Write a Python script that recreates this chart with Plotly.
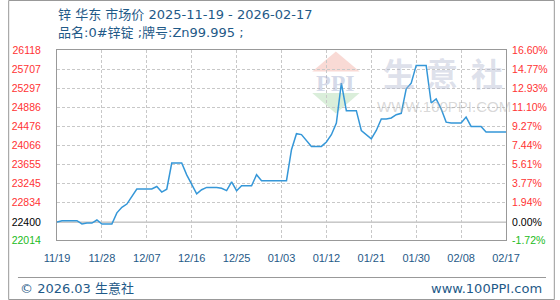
import pandas as pd
import plotly.graph_objects as go

# ---------------- data ----------------
start_date = "2025-11-19"
prices = [
    22400, 22430, 22430, 22430, 22430, 22360, 22380, 22380, 22446, 22360,
    22360, 22360, 22600, 22720, 22790, 22940, 23115, 23115, 23115, 23115,
    23170, 23050, 23110, 23677, 23677, 23677, 23420, 23200, 23010, 23100,
    23150, 23150, 23150, 23130, 23080, 23267, 23079, 23187, 23187, 23187,
    23424, 23295, 23295, 23295, 23295, 23295, 23295, 23965, 24310, 24290,
    24150, 24036, 24036, 24036, 24131, 24288, 24541, 25405, 24807, 24807,
    24807, 24380, 24300, 24200, 24380, 24628, 24628, 24650, 24720, 24750,
    25280, 25400, 25785, 25785, 25785, 24973, 25060, 24850, 24560, 24541,
    24541, 24541, 24670, 24468, 24468, 24468, 24347, 24347, 24347, 24347,
    24347,
]
dates = pd.date_range(start_date, periods=len(prices), freq="D")

x_tick_dates = ["2025-11-19", "2025-11-28", "2025-12-07", "2025-12-16", "2025-12-25",
                "2026-01-03", "2026-01-12", "2026-01-21", "2026-01-30", "2026-02-08",
                "2026-02-17"]
x_tick_labels = ["11/19", "11/28", "12/07", "12/16", "12/25", "01/03", "01/12",
                 "01/21", "01/30", "02/08", "02/17"]

y_tick_vals = [22014, 22400, 22834, 23245, 23655, 24066, 24476, 24886, 25297, 25707, 26118]
y_tick_pct = ["-1.72%", "0.00%", "1.94%", "3.77%", "5.61%", "7.44%", "9.27%",
              "11.10%", "12.93%", "14.77%", "16.60%"]
base_price = 22400

title_text = "锌 华东 市场价 2025-11-19 - 2026-02-17"
subtitle_text = "品名:0#锌锭 ;牌号:Zn99.995 ;"

# ---------------- layout helpers ----------------
W, H = 560, 300
ML, MR, MT, MB = 50, 50, 50, 60
PW, PH = W - ML - MR, H - MT - MB


def px(x):
    return (x - ML) / PW


def py(y):
    return (H - MB - y) / PH


RED, BLACK, GREEN = "#ff3333", "#000000", "#22bb22"


def lab_color(v):
    if v > base_price:
        return RED
    if v < base_price:
        return GREEN
    return BLACK


left_text = ['<span style="color:%s">%d</span>' % (lab_color(v), v) for v in y_tick_vals]
right_text = ['<span style="color:%s">%s</span>' % (lab_color(v), t)
              for v, t in zip(y_tick_vals, y_tick_pct)]

FONT = "Liberation Sans, Arial, Noto Sans CJK SC, sans-serif"
BLUE_TXT = "#1f5a88"
GRID = "#c8c8c8"
FRAME = "#999999"

fig = go.Figure()
fig.add_trace(go.Scatter(
    x=dates, y=prices, mode="lines",
    line=dict(color="#3597d8", width=1.5),
    hoverinfo="skip", showlegend=False,
))
# invisible trace for right axis
fig.add_trace(go.Scatter(x=[dates[0]], y=[base_price], yaxis="y2", mode="markers",
                         marker=dict(opacity=0), showlegend=False, hoverinfo="skip"))

yrange = [min(y_tick_vals), max(y_tick_vals)]

fig.update_layout(
    width=W, height=H,
    margin=dict(l=ML, r=MR, t=MT, b=MB, pad=0),
    paper_bgcolor="white", plot_bgcolor="rgba(0,0,0,0)",
    showlegend=False,
    xaxis=dict(
        type="date", range=[x_tick_dates[0], x_tick_dates[-1]],
        tickmode="array", tickvals=x_tick_dates, ticktext=x_tick_labels,
        showgrid=True, gridcolor=GRID, griddash="3px,2px", gridwidth=1,
        showline=True, linecolor=FRAME, linewidth=1, mirror=True,
        ticks="outside", ticklen=8, tickcolor="rgba(0,0,0,0)",
        tickfont=dict(family=FONT, size=11, color=BLUE_TXT),
        zeroline=False, fixedrange=True,
    ),
    yaxis=dict(
        range=yrange, tickmode="array", tickvals=y_tick_vals, ticktext=left_text,
        showgrid=True, gridcolor=GRID, griddash="3px,2px", gridwidth=1,
        showline=True, linecolor=FRAME, linewidth=1, mirror=True,
        ticks="outside", ticklen=13, tickcolor="rgba(0,0,0,0)",
        tickfont=dict(family=FONT, size=10.5),
        zeroline=False, fixedrange=True,
    ),
    yaxis2=dict(
        range=yrange, overlaying="y", side="right",
        tickmode="array", tickvals=y_tick_vals, ticktext=right_text,
        showgrid=False, showline=False,
        ticks="outside", ticklen=3, tickcolor="rgba(0,0,0,0)",
        tickfont=dict(family=FONT, size=10.5),
        zeroline=False, fixedrange=True,
    ),
)

shapes = []
# base line at 0%
shapes.append(dict(type="line", xref="paper", yref="y", x0=0, x1=1,
                   y0=base_price, y1=base_price, line=dict(color="#aaaaaa", width=1),
                   layer="below"))
# watermark logo triangles
shapes.append(dict(type="path", xref="paper", yref="paper", layer="below",
                   path="M %f %f L %f %f L %f %f Z" % (px(311.5), py(71.5), px(335.7), py(51.5),
                                                       px(360), py(71.5)),
                   fillcolor="#f9dad5", line=dict(width=0)))
shapes.append(dict(type="path", xref="paper", yref="paper", layer="below",
                   path="M %f %f L %f %f L %f %f Z" % (px(311.5), py(93), px(360), py(93),
                                                       px(335.7), py(113.5)),
                   fillcolor="#daeeda", line=dict(width=0)))
# footer separator
shapes.append(dict(type="line", xref="paper", yref="paper", x0=px(10), x1=px(551),
                   y0=py(277.5), y1=py(277.5), line=dict(color="#999999", width=1)))
# outer frame
shapes.append(dict(type="rect", xref="paper", yref="paper", x0=px(0.5), x1=px(559.5),
                   y0=py(0.5), y1=py(299.5), line=dict(color="#999999", width=1)))
fig.update_layout(shapes=shapes)

ann = []


def add_text(text, x, y, size, color, xanchor="left", family=FONT, weight=None):
    f = dict(family=family, size=size, color=color)
    if weight:
        f["weight"] = weight
    ann.append(dict(text=text, x=px(x), y=py(y), xref="paper", yref="paper",
                    xanchor=xanchor, yanchor="middle", showarrow=False, font=f))


CJK = "Noto Sans CJK SC, sans-serif"
# watermark
add_text("PPI", 335.7, 83, 24, "rgba(160,172,205,0.45)", "center",
         family="Liberation Serif, serif", weight=700)
for ch, cx in zip(["生", "意", "社"], [400, 444.5, 491]):
    add_text(ch, cx, 72, 32, "rgba(175,182,207,0.42)", "center", family=CJK, weight=700)
add_text("WWW.100PPI.COM", 446.5, 106, 15, "rgba(170,170,170,0.45)", "center")

# titles
add_text(title_text, 49, 14, 13, BLUE_TXT, family="DejaVu Sans, Noto Sans CJK SC, sans-serif")
add_text(subtitle_text, 49, 33, 13, BLUE_TXT, family="DejaVu Sans, Noto Sans CJK SC, sans-serif")
# footer
add_text("© 2026.03 生意社", 10, 288.5, 13, BLUE_TXT, family="DejaVu Sans, Noto Sans CJK SC, sans-serif")
add_text("www.100PPI.com", 549, 288.5, 13, BLUE_TXT, "right", family="DejaVu Sans, sans-serif")
fig.update_layout(annotations=ann)

fig.write_html("out.html")
